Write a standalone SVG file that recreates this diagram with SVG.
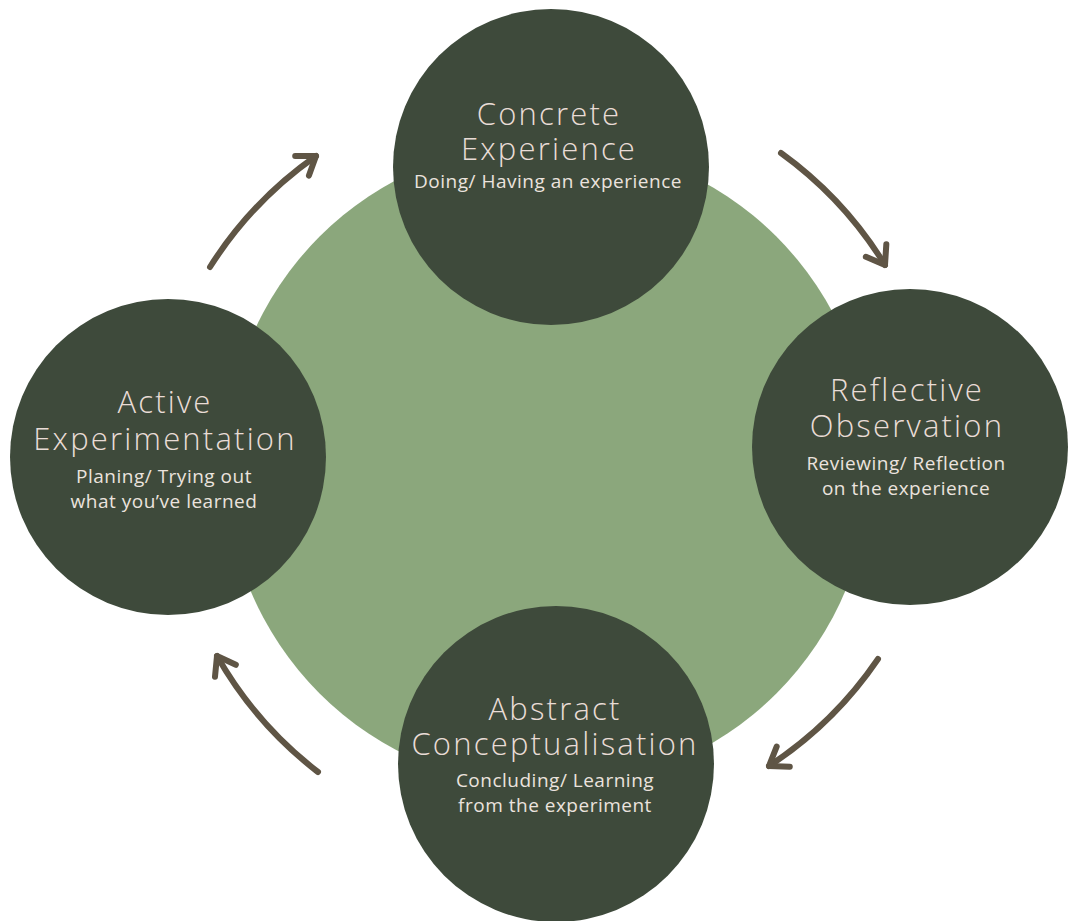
<svg xmlns="http://www.w3.org/2000/svg" width="1068" height="921" viewBox="0 0 1068 921">
  <style>
    .hub { fill: #8ba77c; }
    .stage { fill: #3e4a3b; }
    .title { font-family: "Open Sans", "Liberation Sans", sans-serif; font-size: 31px; font-weight: 300; fill: #e9dcd6; text-anchor: middle; letter-spacing: 2.2px; }
    .sub { font-family: "Open Sans", "Liberation Sans", sans-serif; font-size: 19px; font-weight: 400; fill: #ebe3de; text-anchor: middle; letter-spacing: 0.5px; }
    .flow { fill: none; stroke: #5f5545; stroke-width: 6; stroke-linecap: round; marker-end: url(#chevron); }
  </style>
  <defs>
    <marker id="chevron" markerUnits="userSpaceOnUse" viewBox="-24 -16 30 32" refX="0" refY="0" markerWidth="30" markerHeight="32" orient="auto" overflow="visible">
      <path d="M-17,-12 L0,0 L-17,12" fill="none" stroke="#5f5545" stroke-width="6" stroke-linecap="round" stroke-linejoin="round"/>
    </marker>
  </defs>
  <rect width="1068" height="921" fill="#ffffff"/>

  <!-- central disc -->
  <circle class="hub" cx="548" cy="465" r="323"/>

  <!-- cycle arrows -->
  <g id="connectors">
    <path class="flow" d="M210,267 A390,390 0 0 1 316,156"/>
    <path class="flow" d="M781,153 A390,390 0 0 1 885,265"/>
    <path class="flow" d="M878,659 A390,390 0 0 1 769,766"/>
    <path class="flow" d="M318,772 A390,390 0 0 1 217,656"/>
  </g>

  <g id="concrete-experience">
    <circle class="stage" cx="551" cy="167" r="158"/>
    <text class="title" x="549" y="125">Concrete</text>
    <text class="title" x="549" y="160">Experience</text>
    <text class="sub" x="548" y="188">Doing/ Having an experience</text>
  </g>

  <g id="reflective-observation">
    <circle class="stage" cx="910" cy="447" r="158"/>
    <text class="title" x="907" y="401">Reflective</text>
    <text class="title" x="907" y="437">Observation</text>
    <text class="sub" x="906" y="470">Reviewing/ Reflection</text>
    <text class="sub" x="906" y="495">on the experience</text>
  </g>

  <g id="abstract-conceptualisation">
    <circle class="stage" cx="556" cy="764" r="158"/>
    <text class="title" x="555" y="720">Abstract</text>
    <text class="title" x="555" y="755">Conceptualisation</text>
    <text class="sub" x="555" y="787">Concluding/ Learning</text>
    <text class="sub" x="555" y="812">from the experiment</text>
  </g>

  <g id="active-experimentation">
    <circle class="stage" cx="168" cy="457" r="158"/>
    <text class="title" x="165" y="413">Active</text>
    <text class="title" x="165" y="450">Experimentation</text>
    <text class="sub" x="164" y="483">Planing/ Trying out</text>
    <text class="sub" x="164" y="508">what you’ve learned</text>
  </g>
</svg>
